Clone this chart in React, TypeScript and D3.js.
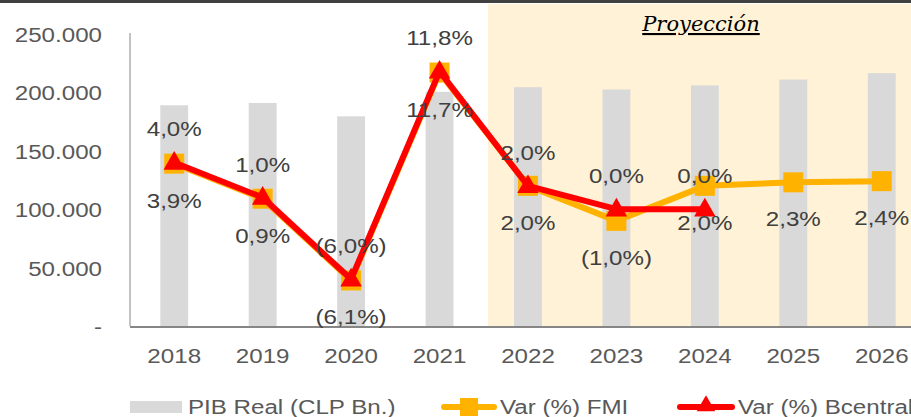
import React from "react";
import * as d3 from "d3";

const years = ["2018", "2019", "2020", "2021", "2022", "2023", "2024", "2025", "2026"];
const pib = [189000, 191000, 179500, 200500, 204500, 202500, 206000, 211000, 216500];
const fmi = [3.9, 0.9, -6.1, 11.7, 2.0, -1.0, 2.0, 2.3, 2.4];
const fmiLabels = ["3,9%", "0,9%", "(6,1%)", "11,7%", "2,0%", "(1,0%)", "2,0%", "2,3%", "2,4%"];
const bcentral = [4.0, 1.0, -6.0, 11.8, 2.0, 0.0, 0.0];
const bcentralLabels = ["4,0%", "1,0%", "(6,0%)", "11,8%", "2,0%", "0,0%", "0,0%"];
const yTicks = [0, 50000, 100000, 150000, 200000, 250000];
const yTickLabels = ["-", "50.000", "100.000", "150.000", "200.000", "250.000"];

const W = 911;
const H = 417;
const left = 130;
const step = 88.44;
const font = "'Liberation Sans', Arial, sans-serif";
const SX = 1.15;

function T(props: {
  x: number;
  y: number;
  anchor?: "start" | "middle" | "end";
  fill?: string;
  children: React.ReactNode;
}) {
  return (
    <text
      transform={`translate(${props.x},${props.y}) scale(${SX},1)`}
      textAnchor={props.anchor || "start"}
      fontFamily={font}
      fontSize={21}
      fill={props.fill || "#595959"}
    >
      {props.children}
    </text>
  );
}

export default function App() {
  const x = d3
    .scaleBand<string>()
    .domain(years)
    .range([left, left + step * years.length])
    .paddingInner(0.685)
    .paddingOuter(0.3425);
  const y = d3.scaleLinear().domain([0, 250000]).range([326, 34]);
  const y2 = d3.scaleLinear().domain([-10, 15]).range([326, 34]);
  const cx = (yr: string) => (x(yr) as number) + x.bandwidth() / 2;

  const lineGen = d3
    .line<number>()
    .x((_, i) => cx(years[i]))
    .y((d) => y2(d));

  const shadeX = (x("2022") as number) - 26;
  const tri = d3.symbol().type(d3.symbolTriangle).size(200)();
  const triSmall = d3.symbol().type(d3.symbolTriangle).size(150)();

  return (
    <svg
      width={W}
      height={H}
      style={{ position: "absolute", left: 0, top: 0, background: "#fff" }}
    >
      <rect x={0} y={0} width={W} height={3} fill="#404040" />
      <rect x={shadeX} y={4} width={W - shadeX} height={y(0) - 4} fill="#FFF2D6" />
      <text
        x={701}
        y={31}
        textAnchor="middle"
        fontFamily="'DejaVu Serif', Georgia, serif"
        fontStyle="italic"
        fontSize={21}
        fill="#000"
        textDecoration="underline"
      >
        Proyección
      </text>

      {pib.map((v, i) => (
        <rect
          key={years[i]}
          x={x(years[i])}
          y={y(v)}
          width={x.bandwidth()}
          height={y(0) - y(v)}
          fill="#D9D9D9"
        />
      ))}

      <line x1={left} x2={left} y1={33} y2={y(0)} stroke="#868686" strokeWidth={1} />
      <line x1={left} x2={W} y1={y(0) + 1} y2={y(0) + 1} stroke="#868686" strokeWidth={2} />

      {yTicks.map((t, i) => (
        <T key={t} x={102} y={y(t) + 8} anchor="end">
          {yTickLabels[i]}
        </T>
      ))}
      {years.map((yr) => (
        <T key={yr} x={cx(yr)} y={363} anchor="middle">
          {yr}
        </T>
      ))}

      <path d={lineGen(fmi) || ""} fill="none" stroke="#FFB300" strokeWidth={6} strokeLinejoin="round" />
      {fmi.map((v, i) => (
        <rect key={i} x={cx(years[i]) - 10} y={y2(v) - 10} width={20} height={20} fill="#FFB300" />
      ))}
      <path d={lineGen(bcentral) || ""} fill="none" stroke="#FF0000" strokeWidth={6} strokeLinejoin="round" />
      {bcentral.map((v, i) => (
        <path key={i} d={tri || ""} transform={`translate(${cx(years[i])},${y2(v) + 1})`} fill="#FF0000" />
      ))}

      {bcentral.map((v, i) => (
        <T key={"b" + i} x={cx(years[i])} y={y2(v) - 26} anchor="middle" fill="#404040">
          {bcentralLabels[i]}
        </T>
      ))}
      {fmi.map((v, i) => (
        <T key={"f" + i} x={cx(years[i])} y={y2(v) + 44} anchor="middle" fill="#404040">
          {fmiLabels[i]}
        </T>
      ))}

      <rect x={130} y={401} width={52} height={12} fill="#D9D9D9" />
      <T x={188} y={414}>PIB Real (CLP Bn.)</T>
      <line x1={444} x2={494} y1={407} y2={407} stroke="#FFB300" strokeWidth={6} strokeLinecap="round" />
      <rect x={460} y={398} width={18} height={18} fill="#FFB300" />
      <T x={500} y={414}>Var (%) FMI</T>
      <line x1={680} x2={732} y1={407} y2={407} stroke="#FF0000" strokeWidth={6} strokeLinecap="round" />
      <path d={triSmall || ""} transform="translate(706,406)" fill="#FF0000" />
      <T x={738} y={414}>Var (%) Bcentral</T>
    </svg>
  );
}
